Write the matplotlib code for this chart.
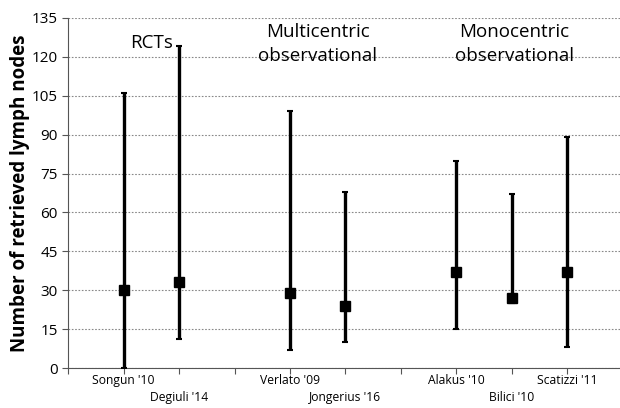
import numpy as np
import matplotlib.pyplot as plt

# data
studies = ["Songun '10", "Degiuli '14", "Verlato '09", "Jongerius '16",
           "Alakus '10", "Bilici '10", "Scatizzi '11"]
positions = [1, 2, 4, 5, 7, 8, 9]
median = [30, 33, 29, 24, 37, 27, 37]
low = [0, 11, 7, 10, 15, 25, 8]
high = [106, 124, 99, 68, 80, 67, 89]

groups = ["RCTs", "Multicentric\nobservational", "Monocentric\nobservational"]
group_x = [1.5, 4.5, 8.05]
group_y = [125.5, 125, 125]

plt.rcParams['font.family'] = ['Open Sans', 'DejaVu Sans']

fig = plt.figure(figsize=(6.2, 4.08), dpi=100)
ax = fig.add_axes([0.11, 0.098, 0.89, 0.858])

med = np.array(median)
yerr = [med - np.array(low), np.array(high) - med]
ax.errorbar(positions, med, yerr=yerr, fmt='s', color='black', ms=7.5,
            elinewidth=2.4, capsize=2, capthick=1.5, zorder=3)

ax.set_xlim(0, 9.95)
ax.set_ylim(0, 135)
ax.set_yticks(np.arange(0, 136, 15))
ax.set_xticks(np.arange(0, 10))
ax.set_xticklabels([])
ax.yaxis.grid(True, linestyle=(0, (1.5, 1.5)), color='#888888', linewidth=0.8)
ax.set_axisbelow(True)
for s in ['top', 'right']:
    ax.spines[s].set_visible(False)
ax.spines['left'].set_color('#555555')
ax.spines['bottom'].set_color('#555555')
ax.tick_params(axis='y', labelsize=11, length=4, color='#555555')
ax.tick_params(axis='x', length=4, color='#555555')

# staggered study labels
for i, (p, name) in enumerate(zip(positions, studies)):
    dy = -0.037 if i % 2 == 0 else -0.085
    ax.text(p, dy, name, transform=ax.get_xaxis_transform(),
            ha='center', va='center', fontsize=8.7)

for gx, gy, g in zip(group_x, group_y, groups):
    ax.text(gx, gy, g, ha='center', va='center', fontsize=13.5,
            linespacing=1.4)

ax.set_ylabel("Number of retrieved lymph nodes", fontsize=13.5,
              fontweight='bold', labelpad=1)

fig.savefig("out.png", dpi=100)
